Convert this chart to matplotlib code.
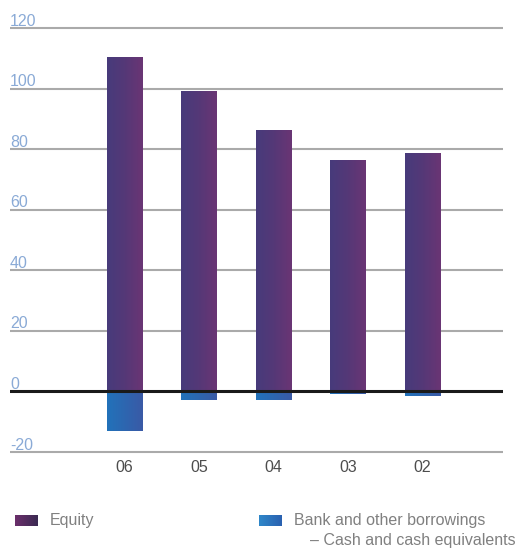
import numpy as np
import matplotlib
matplotlib.use("Agg")
import matplotlib.pyplot as plt
from matplotlib.colors import LinearSegmentedColormap

categories = ["06", "05", "04", "03", "02"]
equity = [110, 99, 86, 76, 78.5]
net_borrowings = [-13, -3, -3, -0.9, -1.6]
yticks = [-20, 0, 20, 40, 60, 80, 100, 120]

W, H = 523, 549
FONT = "Liberation Sans"
fig = plt.figure(figsize=(W / 100, H / 100), dpi=100)

# axes placement (pixels)
y_top_px, y_bot_px = 25, 455          # for ylim 121 / -21
x_left_px, x_right_px = 10, 503
ax = fig.add_axes([x_left_px / W, (H - y_bot_px) / H,
                   (x_right_px - x_left_px) / W, (y_bot_px - y_top_px) / H])
ax.set_ylim(-21, 121)
ax.set_xlim(-1.537, 5.081)
ax.axis("off")

purple_cmap = LinearSegmentedColormap.from_list("p", ["#473b7b", "#553877", "#6a3574"])
blue_cmap = LinearSegmentedColormap.from_list("b", ["#2272ba", "#2d66b0", "#3a5aa6"])
grad = np.linspace(0, 1, 64).reshape(1, -1)

x = np.arange(len(categories))
width = 0.47

for yv in yticks:
    if yv != 0:
        ax.axhline(yv, color="#aaaaaa", lw=1.5, zorder=1)
    ax.text(-1.537, yv + 0.8, str(yv), color="#8aaad6", fontsize=11.5,
            family=FONT, ha="left", va="baseline")

bars_e = ax.bar(x, equity, width, color="none", zorder=2)
bars_b = ax.bar(x, net_borrowings, width, color="none", zorder=2)
for b in bars_e:
    x0, y0 = b.get_x(), b.get_y()
    ax.imshow(grad, cmap=purple_cmap, aspect="auto", zorder=2,
              extent=(x0, x0 + b.get_width(), y0, y0 + b.get_height()))
for b in bars_b:
    x0, y0 = b.get_x(), b.get_y()
    ax.imshow(grad, cmap=blue_cmap, aspect="auto", zorder=2,
              extent=(x0, x0 + b.get_width(), y0 + b.get_height(), y0))

ax.axhline(0, color="#1a1a1a", lw=2.2, zorder=3)

for xi, c in zip(x, categories):
    ax.annotate(c, xy=(xi, -20), xytext=(0, -16), textcoords="offset pixels",
                color="#4d4d4d", fontsize=11.5, family=FONT,
                ha="center", va="center", annotation_clip=False)

# legend
def legend_patch(px, py, cmap):
    lax = fig.add_axes([px / W, (H - py - 11) / H, 23 / W, 11 / H])
    lax.imshow(grad, cmap=cmap, aspect="auto")
    lax.axis("off")

legend_patch(15, 515, LinearSegmentedColormap.from_list("lp", ["#6b2f6b", "#3b2a52"]))
legend_patch(259, 515, LinearSegmentedColormap.from_list("lb", ["#2f87c9", "#2a61b0"]))
fig.text(50 / W, 1 - 520 / H, "Equity", color="#808080", fontsize=11.5,
         family=FONT, va="center", ha="left")
fig.text(294 / W, 1 - 520 / H, "Bank and other borrowings", color="#808080",
         fontsize=11.5, family=FONT, va="center", ha="left")
fig.text(310 / W, 1 - 540 / H, "\u2013 Cash and cash equivalents", color="#808080",
         fontsize=11.5, family=FONT, va="center", ha="left")

fig.savefig("out.png", dpi=100)
